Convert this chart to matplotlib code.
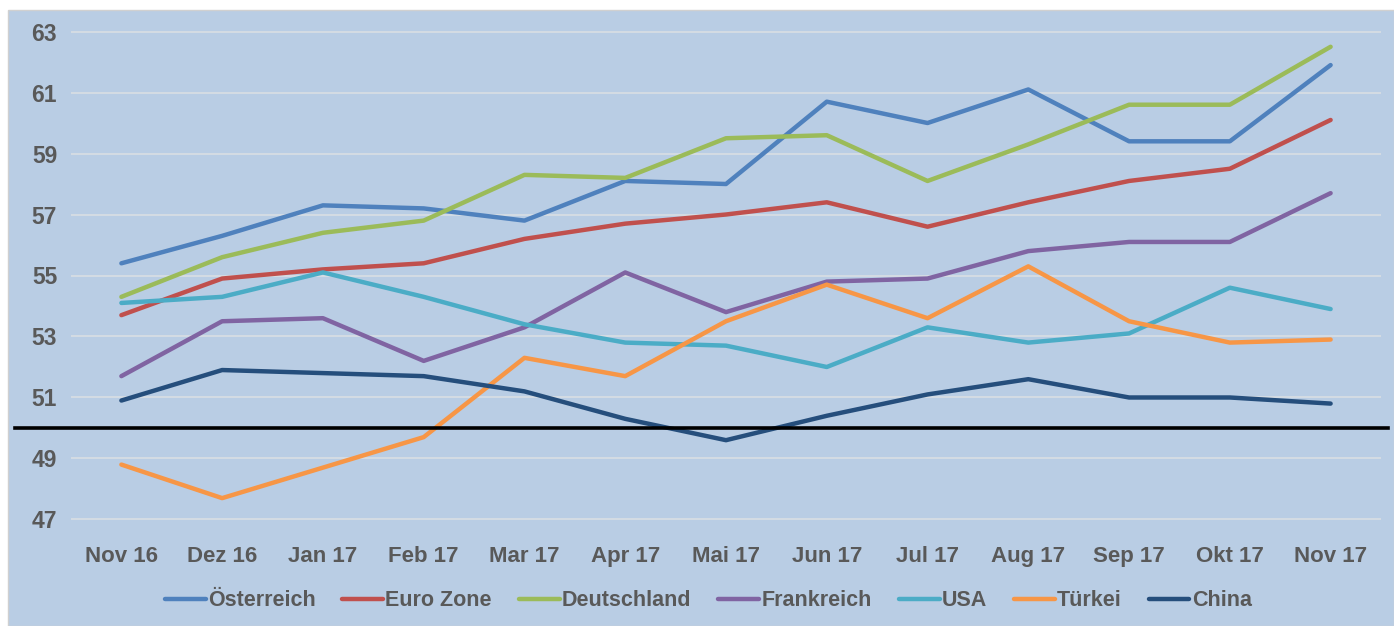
import matplotlib
matplotlib.use("Agg")
import matplotlib.pyplot as plt
from matplotlib.patches import Rectangle

plt.rcParams['font.family'] = ['Liberation Sans Narrow', 'Liberation Sans', 'DejaVu Sans']
plt.rcParams['font.weight'] = 'bold'

months = ["Nov 16", "Dez 16", "Jan 17", "Feb 17", "Mar 17", "Apr 17", "Mai 17",
          "Jun 17", "Jul 17", "Aug 17", "Sep 17", "Okt 17", "Nov 17"]

oesterreich = [55.4, 56.3, 57.3, 57.2, 56.8, 58.1, 58.0, 60.7, 60.0, 61.1, 59.4, 59.4, 61.9]
euro_zone = [53.7, 54.9, 55.2, 55.4, 56.2, 56.7, 57.0, 57.4, 56.6, 57.4, 58.1, 58.5, 60.1]
deutschland = [54.3, 55.6, 56.4, 56.8, 58.3, 58.2, 59.5, 59.6, 58.1, 59.3, 60.6, 60.6, 62.5]
frankreich = [51.7, 53.5, 53.6, 52.2, 53.3, 55.1, 53.8, 54.8, 54.9, 55.8, 56.1, 56.1, 57.7]
usa = [54.1, 54.3, 55.1, 54.3, 53.4, 52.8, 52.7, 52.0, 53.3, 52.8, 53.1, 54.6, 53.9]
tuerkei = [48.8, 47.7, 48.7, 49.7, 52.3, 51.7, 53.5, 54.7, 53.6, 55.3, 53.5, 52.8, 52.9]
china = [50.9, 51.9, 51.8, 51.7, 51.2, 50.3, 49.6, 50.4, 51.1, 51.6, 51.0, 51.0, 50.8]

series = [("Österreich", oesterreich, "#4F81BD"),
          ("Euro Zone", euro_zone, "#C0504D"),
          ("Deutschland", deutschland, "#9BBB59"),
          ("Frankreich", frankreich, "#8064A2"),
          ("USA", usa, "#4BACC6"),
          ("Türkei", tuerkei, "#F79646"),
          ("China", china, "#254E7C")]

yticks = [47, 49, 51, 53, 55, 57, 59, 61, 63]

bg = "#B9CDE4"
txt = "#595959"

fig = plt.figure(figsize=(13.94, 6.26), dpi=100)
fig.patch.set_facecolor("white")
# blue chart area, leaves a thin white strip at top and left like the original
fig.patches.append(Rectangle((8 / 1394, 0), 1 - 8 / 1394, 1 - 10 / 626,
                             transform=fig.transFigure, facecolor=bg,
                             edgecolor="#D0D0D0", linewidth=1, zorder=-10))

ax = fig.add_axes([71 / 1394, 1 - 521 / 626, 1310 / 1394, 491 / 626])
ax.patch.set_alpha(0)

x = range(len(months))
for name, vals, col in series:
    ax.plot(x, vals, color=col, linewidth=3.2, label=name, solid_capstyle="round")

ax.axhline(50, xmin=-0.043, xmax=1.005, color="black", linewidth=2.6,
           clip_on=False, zorder=5)

ax.set_xlim(-0.5, 12.5)
ax.set_ylim(46.95, 63.05)
ax.set_yticks(yticks)
ax.set_xticks(list(x))
ax.set_xticklabels(months)
ax.yaxis.grid(True, color="#D9DEE3", linewidth=1.2)
ax.set_axisbelow(True)
for s in ax.spines.values():
    s.set_visible(False)
ax.tick_params(length=0, labelsize=16, labelcolor=txt)
ax.tick_params(axis="y", labelsize=16.5, pad=10)
ax.tick_params(axis="x", pad=18)

leg = fig.legend(loc="center", bbox_to_anchor=(0.508, 1 - 601 / 626), ncol=7,
                 frameon=False, fontsize=15.5, handlelength=1.9, handletextpad=0.1,
                 columnspacing=1.25)
for t in leg.get_texts():
    t.set_color(txt)

fig.savefig("out.png", dpi=100, facecolor=fig.get_facecolor())
